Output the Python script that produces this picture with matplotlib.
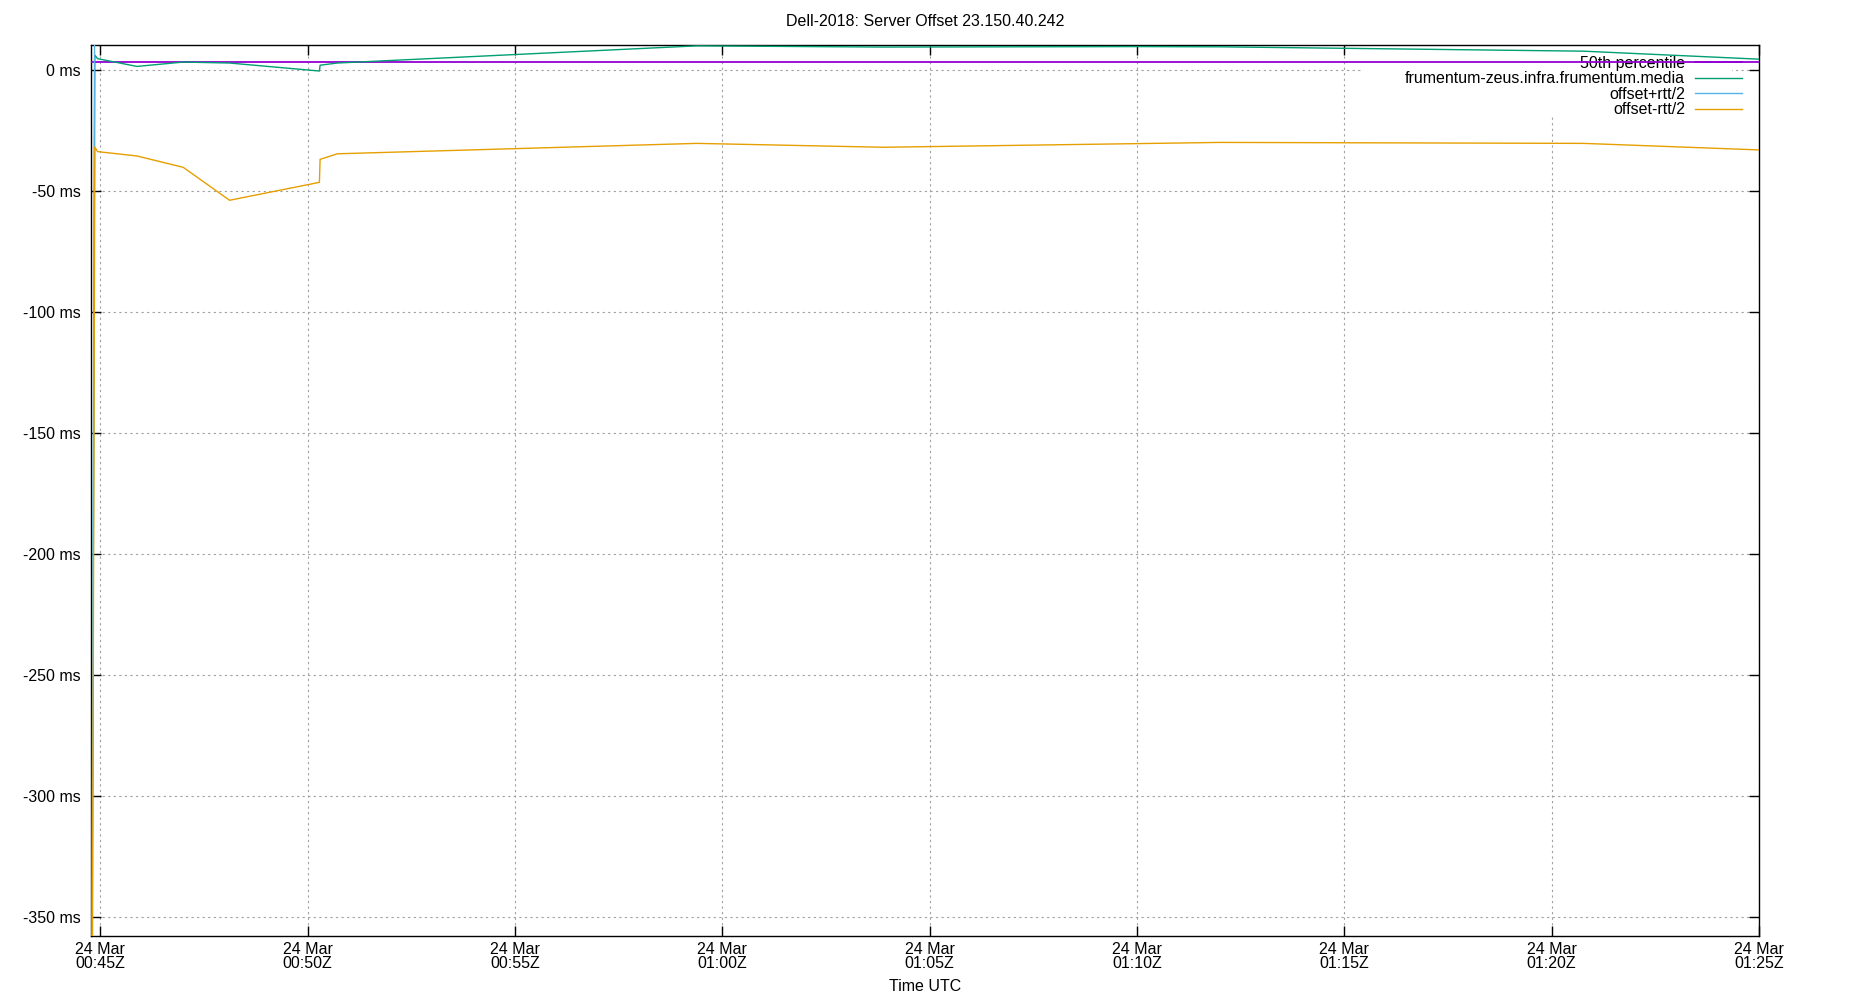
import matplotlib
matplotlib.use("Agg")
import matplotlib.pyplot as plt
import matplotlib.dates as mdates
from matplotlib.patches import Rectangle
from matplotlib.ticker import FuncFormatter, MultipleLocator
import pandas as pd

plt.rcParams['font.family'] = ['Liberation Sans', 'DejaVu Sans']
plt.rcParams['font.size'] = 11.5

DAY = "2018-03-24 "

# sample times (UTC) and measured values
times = ["00:44:47", "00:44:52", "00:44:56", "00:45:53", "00:47:00", "00:48:07",
         "00:50:17", "00:50:18", "00:50:43", "00:59:23", "01:03:53", "01:10:00",
         "01:12:00", "01:20:46", "01:25:00"]
offset_ms = [-480, 6.3, 4.8, 1.6, 3.4, 3.0, -0.3, 2.1, 3.0, 10.1, 9.6, 9.8, 9.7, 7.9, 4.6]
rtt_ms = [80, 76, 76.8, 74, 87, 113.4, 92, 77.8, 75, 80.6, 82.8, 80.2, 79, 76.2, 75]
median_ms = 3.3

host = "frumentum-zeus.infra.frumentum.media"
title = "Dell-2018: Server Offset 23.150.40.242"

t = pd.to_datetime([DAY + s for s in times])
hi = [o + r / 2 for o, r in zip(offset_ms, rtt_ms)]
lo = [o - r / 2 for o, r in zip(offset_ms, rtt_ms)]

fig = plt.figure(figsize=(18.5, 10), dpi=100)
ax = fig.add_axes([0.049, 0.064, 0.9018, 0.891])

xmin = pd.Timestamp(DAY + "00:44:46")
xmax = pd.Timestamp(DAY + "01:25:00")
ax.set_xlim(xmin, xmax)
ax.set_ylim(-357.7, 10.45)

ax.set_axisbelow(True)
ax.grid(True, color='#a0a0a0', linestyle=(0, (2, 3)), linewidth=0.8)

# opaque key box (hides grid, not data)
ax.add_patch(Rectangle((0.762, 0.921), 0.222, 0.079, transform=ax.transAxes,
                       facecolor='white', edgecolor='none', zorder=1))

l1 = ax.axhline(median_ms, color='#9400d3', lw=1.3, zorder=3, label="50th percentile")
l2, = ax.plot(t, offset_ms, color='#009e73', lw=1.0, zorder=3, label=host)
l3, = ax.plot(t, hi, color='#56b4e9', lw=1.0, zorder=3, label="offset+rtt/2")
l4, = ax.plot(t, lo, color='#e69f00', lw=1.0, zorder=3, label="offset-rtt/2")

leg = ax.legend(handles=[l1, l2, l3, l4], loc='upper right', frameon=False,
                markerfirst=False, handlelength=2.9, handletextpad=0.65,
                labelspacing=0.03, borderaxespad=0.0,
                bbox_to_anchor=(0.9935, 0.995), fontsize=11.5)
leg.set_zorder(2)

ax.xaxis.set_major_locator(mdates.MinuteLocator(byminute=range(0, 60, 5)))
ax.xaxis.set_major_formatter(mdates.DateFormatter("%d %b\n%H:%MZ"))
ax.yaxis.set_major_locator(MultipleLocator(50))
ax.yaxis.set_major_formatter(FuncFormatter(lambda v, p: f"{v:.0f} ms"))

ax.tick_params(direction='in', length=7, width=1, top=True, right=True,
               labelsize=11.5, colors='black')
ax.tick_params(axis='y', pad=7)
ax.tick_params(axis='x', pad=4)
for lab in ax.get_xticklabels():
    lab.set_linespacing(0.95)

for sp in ax.spines.values():
    sp.set_linewidth(1.0)

ax.set_xlabel("Time UTC", fontsize=11.5, labelpad=6)
fig.text(0.5, 0.979, title, ha='center', va='center', fontsize=11.5)

fig.savefig("out.png", dpi=100, facecolor='white')
